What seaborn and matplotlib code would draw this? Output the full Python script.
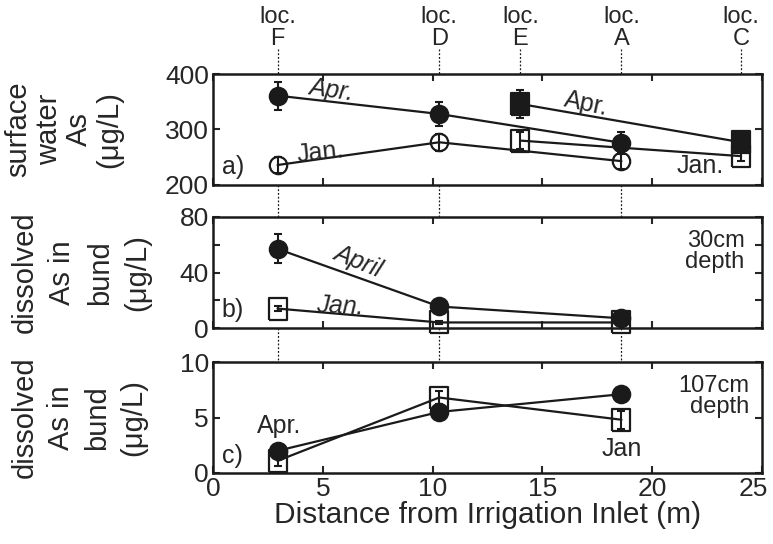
import numpy as np
import pandas as pd
import matplotlib
matplotlib.use("Agg")
import matplotlib.pyplot as plt
import matplotlib.transforms as mtransforms
from matplotlib.lines import Line2D
import seaborn as sns

sns.set_theme(style="ticks")
plt.rcParams['font.family'] = ['Liberation Sans', 'DejaVu Sans']

# sampling locations (distance from irrigation inlet, m)
loc_names = ["F", "D", "E", "A", "C"]
loc_x = [2.94, 10.3, 14.0, 18.6, 24.05]
circ_x = [2.94, 10.3, 18.6]   # F, D, A
sq_x = [14.0, 24.05]          # E, C

# a) surface water As (ug/L)
a_apr_circ = [361, 328, 276]
a_apr_circ_err = [25, 22, 20]
a_jan_circ = [236, 277, 243]
a_jan_circ_err = [15, 15, 15]
a_apr_sq = [346, 277]
a_apr_sq_err = [26, 8]
a_jan_sq = [280, 252]
a_jan_sq_err = [15, 8]

# b) dissolved As in bund, 30 cm depth
b_apr = [57, 15.5, 7]
b_apr_err = [10.5, 2, 2]
b_jan = [14, 4, 4]
b_jan_err = [2, 1, 1]

# c) dissolved As in bund, 107 cm depth
c_apr = [2.0, 5.5, 7.1]
c_apr_err = [0.3, 0.3, 0.3]
c_jan = [1.1, 6.8, 4.8]
c_jan_err = [0.5, 0.55, 0.8]

rect = [(-0.8, -1), (0.8, -1), (0.8, 1), (-0.8, 1), (-0.8, -1)]

W, H = 773, 544
fig = plt.figure(figsize=(W / 100, H / 100), dpi=100)
left, width = 213 / W, 549 / W
def box(top, bot):
    return [left, 1 - bot / H, width, (bot - top) / H]

ax_a = fig.add_axes(box(74, 185))
ax_b = fig.add_axes(box(217, 328))
ax_c = fig.add_axes(box(362, 473))

def series(ax, x, y, err, marker, ms, filled):
    fc = 'k' if filled else 'none'
    ax.errorbar(x, y, yerr=err, fmt='none', ecolor='k', elinewidth=1.5,
                capsize=3, capthick=1.5, zorder=1.5, clip_on=False)
    sns.lineplot(x=x, y=y, ax=ax, color='k', linewidth=1.6, marker=marker,
                 markersize=ms, markerfacecolor=fc, markeredgecolor='k',
                 markeredgewidth=1.6, clip_on=False)

series(ax_a, circ_x, a_apr_circ, a_apr_circ_err, 'o', 12.5, True)
series(ax_a, circ_x, a_jan_circ, a_jan_circ_err, 'o', 12.5, False)
series(ax_a, sq_x, a_jan_sq, a_jan_sq_err, rect, 16.5, False)
series(ax_a, sq_x, a_apr_sq, a_apr_sq_err, rect, 16.5, True)

series(ax_b, circ_x, b_jan, b_jan_err, rect, 16.5, False)
series(ax_b, circ_x, b_apr, b_apr_err, 'o', 12.5, True)

series(ax_c, circ_x, c_jan, c_jan_err, rect, 16.5, False)
series(ax_c, circ_x, c_apr, c_apr_err, 'o', 12.5, True)

fs = 19
for ax in (ax_a, ax_b, ax_c):
    ax.set_xlim(0, 25)
    ax.set_xticks([0, 5, 10, 15, 20, 25])
    ax.tick_params(direction='in', top=True, right=True, length=5, width=1.5,
                   labelsize=fs, pad=3)
    for s in ax.spines.values():
        s.set_linewidth(1.8)
        s.set_color('k')
    ax.set_xlabel('')
    ax.set_ylabel('')

ax_a.set_ylim(200, 400)
ax_a.set_yticks([200, 300, 400])
ax_b.set_ylim(0, 80)
ax_b.set_yticks([0, 20, 40, 60, 80])
ax_b.set_yticklabels(['0', '', '40', '', '80'])
ax_c.set_ylim(0, 10)
ax_c.set_yticks([0, 5, 10])
ax_a.tick_params(labelbottom=False)
ax_b.tick_params(labelbottom=False)
ax_c.set_xlabel('Distance from Irrigation Inlet (m)', fontsize=21.5, labelpad=0)

# last x tick label sits a little inside the right edge
last = ax_c.get_xticklabels()[-1]
last.set_transform(last.get_transform() +
                   mtransforms.ScaledTranslation(-9 / 100, 0, fig.dpi_scale_trans))

# annotations
tf = 18
ax_a.text(5.4, 370, 'Apr.', fontsize=tf, style='italic', rotation=-8, ha='center', va='center')
ax_a.text(17.0, 346, 'Apr.', fontsize=tf, rotation=-12, ha='center', va='center')
ax_a.text(4.9, 259, 'Jan.', fontsize=tf, rotation=6, ha='center', va='center')
ax_a.text(22.2, 235, 'Jan.', fontsize=tf, ha='center', va='center')
ax_a.text(0.9, 232, 'a)', fontsize=tf, ha='center', va='center')

ax_b.text(6.6, 48, 'April', fontsize=tf, style='italic', rotation=-22, ha='center', va='center')
ax_b.text(5.8, 16, 'Jan.', fontsize=tf, style='italic', rotation=-3, ha='center', va='center')
ax_b.text(24.2, 55, '30cm\ndepth', fontsize=17, ha='right', va='center', linespacing=0.95)
ax_b.text(0.9, 13, 'b)', fontsize=tf, ha='center', va='center')

ax_c.text(3.0, 4.2, 'Apr.', fontsize=tf, ha='center', va='center')
ax_c.text(18.6, 2.2, 'Jan', fontsize=tf, ha='center', va='center')
ax_c.text(24.4, 6.9, '107cm\ndepth', fontsize=17, ha='right', va='center', linespacing=0.95)
ax_c.text(0.9, 1.5, 'c)', fontsize=tf, ha='center', va='center')

# y labels
ylabs = [("surface\nwater\nAs\n(\u03bcg/L)", (74 + 185) / 2, 64, 1.1),
         ("dissolved\nAs in\nbund\n(\u03bcg/L)", (217 + 328) / 2, 81, 1.42),
         ("dissolved\nAs in\nbund\n(\u03bcg/L)", (362 + 473) / 2, 79, 1.38)]
for txt, yc, xc, ls in ylabs:
    fig.text(xc / W, 1 - yc / H, txt, rotation=90, ha='center', va='center',
             multialignment='center', fontsize=21, linespacing=ls)

# location labels and dotted guides
trans = mtransforms.blended_transform_factory(ax_a.transData, fig.transFigure)
for name, x in zip(loc_names, loc_x):
    fig.text(x, 1 - 28 / H, 'loc.\n' + name, transform=trans, ha='center',
             va='center', fontsize=17, linespacing=0.95)
    segs = [(49, 74)]
    if name in ("F", "D", "A"):
        segs += [(185, 217), (328, 362)]
    for y0, y1 in segs:
        fig.add_artist(Line2D([x, x], [1 - y0 / H, 1 - y1 / H], transform=trans,
                              color='k', linestyle=(0, (1.5, 1.5)), linewidth=0.9))

fig.savefig('out.png', dpi=100)
